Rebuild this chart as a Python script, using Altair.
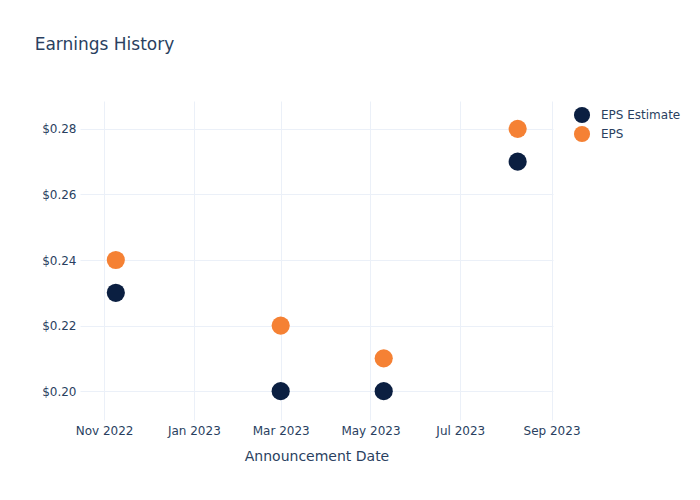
import altair as alt
import pandas as pd

dates = ["2022-11-09", "2023-03-01", "2023-05-10", "2023-08-09"]
eps_estimate = [0.23, 0.20, 0.20, 0.27]
eps_actual = [0.24, 0.22, 0.21, 0.28]
series_names = ["EPS Estimate", "EPS"]
series_colors = ["#0b1f41", "#f58134"]
x_ticks = ["2022-11-01", "2023-01-01", "2023-03-01", "2023-05-01", "2023-07-01", "2023-09-01"]
y_ticks = [0.20, 0.22, 0.24, 0.26, 0.28]

rows = []
for d, e, a in zip(dates, eps_estimate, eps_actual):
    rows.append({"date": d, "series": series_names[0], "value": e})
    rows.append({"date": d, "series": series_names[1], "value": a})
df = pd.DataFrame(rows)

text_color = "#2a3f5f"
grid_color = "#ebf0f8"

chart = alt.Chart(df).mark_circle(size=330, opacity=1).encode(
    x=alt.X("date:T",
            scale=alt.Scale(domain=["2022-10-15T16:00:00", "2023-09-02T00:00:00"]),
            axis=alt.Axis(title="Announcement Date",
                          values=[pd.Timestamp(t).isoformat() for t in x_ticks],
                          format="%b %Y", labelFont="DejaVu Sans", labelFontSize=12,
                          labelColor=text_color, titleFont="DejaVu Sans", titleFontSize=14,
                          titleColor=text_color, titleFontWeight="normal",
                          domain=False, ticks=False, labelPadding=5, titlePadding=13,
                          gridColor=grid_color, labelFlush=False)),
    y=alt.Y("value:Q",
            scale=alt.Scale(domain=[0.1912, 0.2885], nice=False, zero=False),
            axis=alt.Axis(title=None, values=y_ticks, format="$.2f",
                          labelFont="DejaVu Sans", labelFontSize=12, labelColor=text_color,
                          domain=False, ticks=False, labelPadding=4,
                          gridColor=grid_color)),
    color=alt.Color("series:N",
                    scale=alt.Scale(domain=series_names, range=series_colors),
                    legend=alt.Legend(title=None, orient="none", legendX=493, legendY=5,
                                      symbolType="circle", symbolSize=260, symbolOpacity=1,
                                      labelFont="DejaVu Sans", labelFontSize=12,
                                      labelColor=text_color, rowPadding=1, padding=0,
                                      labelOffset=10)),
    order=alt.Order("series:N", sort="ascending"),
).properties(
    width=473, height=319,
    title=alt.TitleParams("Earnings History", anchor="start", font="DejaVu Sans",
                          fontSize=17, fontWeight="normal", color=text_color,
                          dx=-7, offset=47),
    autosize=alt.AutoSizeParams(type="none"),
    padding={"left": 80, "top": 101, "right": 147, "bottom": 80},
).configure(
    background="white",
    view=alt.ViewConfig(stroke="transparent", strokeWidth=0),
)

chart.save("out.html", embed_options={"renderer": "svg", "actions": False})
